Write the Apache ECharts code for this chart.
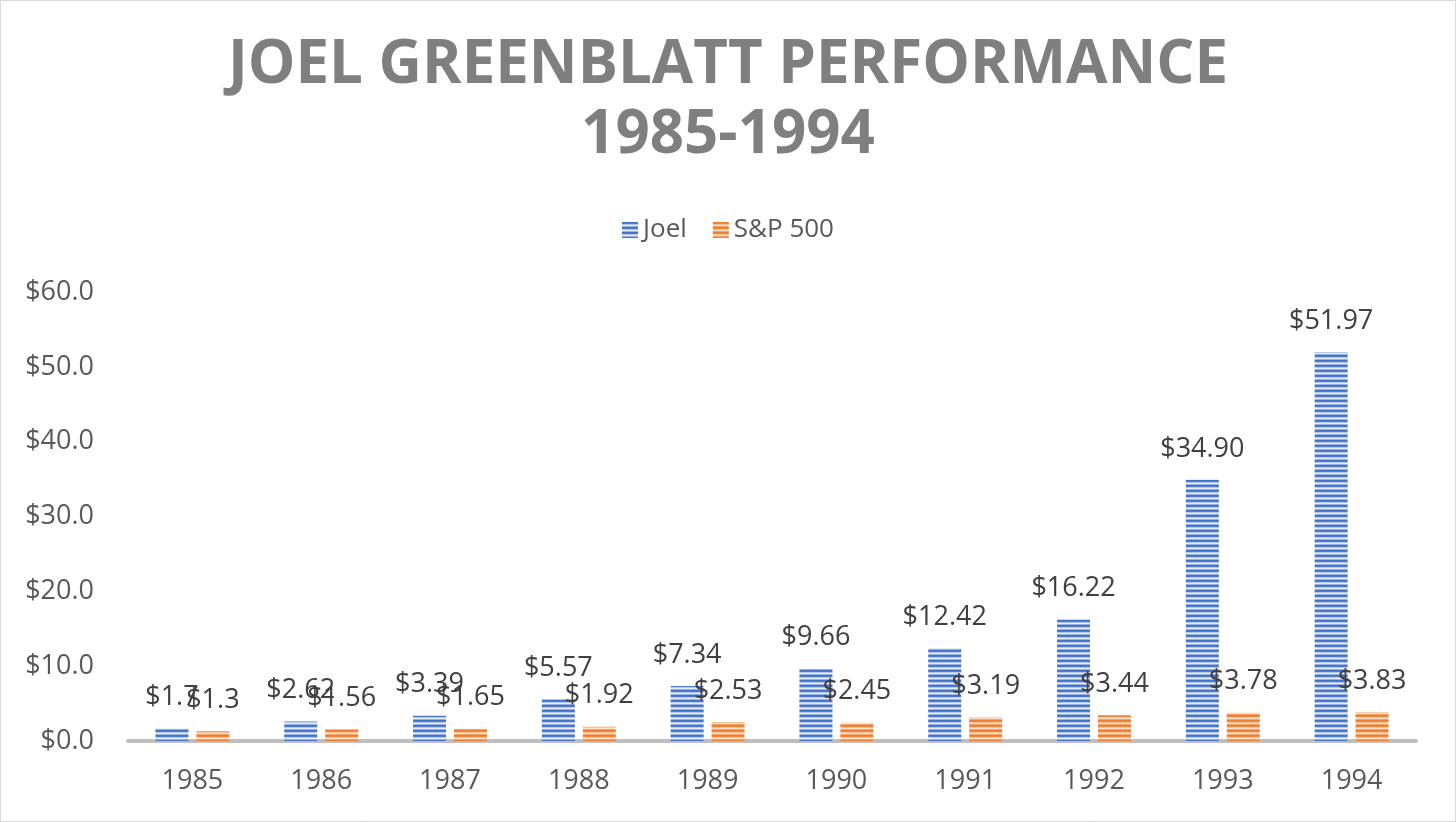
<!DOCTYPE html>
<html>
<head>
<meta charset="utf-8">
<title>Joel Greenblatt Performance 1985-1994</title>
<script src="https://cdn.jsdelivr.net/npm/echarts@6/dist/echarts.min.js"></script>
<style>
  html, body { margin: 0; padding: 0; background: #fff; }
  #main { width: 1456px; height: 822px; }
</style>
</head>
<body>
<div id="main"></div>
<script>
// chart data
const years = ['1985', '1986', '1987', '1988', '1989', '1990', '1991', '1992', '1993', '1994']
const joel = [1.7, 2.62, 3.39, 5.57, 7.34, 9.66, 12.42, 16.22, 34.90, 51.97]
const sp500 = [1.3, 1.56, 1.65, 1.92, 2.53, 2.45, 3.19, 3.44, 3.78, 3.83]
const joelLabels = ['$1.7', '$2.62', '$3.39', '$5.57', '$7.34', '$9.66', '$12.42', '$16.22', '$34.90', '$51.97']
const spLabels = ['$1.3', '$1.56', '$1.65', '$1.92', '$2.53', '$2.45', '$3.19', '$3.44', '$3.78', '$3.83']

// horizontal striped fill like the excel pattern
function stripes (rows) {
  const c = document.createElement('canvas')
  c.width = 4
  c.height = rows.length
  const ctx = c.getContext('2d')
  rows.forEach((col, i) => {
    ctx.fillStyle = col
    ctx.fillRect(0, i, 4, 1)
  })
  return { image: c, repeat: 'repeat' }
}
const bluePattern = stripes(['#4472c4', '#4f7bcb', '#b3c6ec', '#e6edf9', '#9ab2e3'])
const orangePattern = stripes(['#ed7d31', '#ef873f', '#f7c29c', '#fbe1cd', '#f3a468'])

const font = '"Open Sans", sans-serif'

const chart = echarts.init(document.getElementById('main'))
chart.setOption({
  backgroundColor: '#fff',
  animation: false,
  title: {
    text: 'JOEL GREENBLATT PERFORMANCE\n1985-1994',
    left: 'center',
    top: 31,
    padding: 0,
    textStyle: {
      fontFamily: font,
      fontSize: 60,
      fontWeight: 'bold',
      lineHeight: 70,
      color: '#7f7f7f'
    }
  },
  legend: {
    top: 210,
    left: 'center',
    itemWidth: 16,
    itemHeight: 16,
    itemGap: 26,
    icon: 'rect',
    textStyle: { fontFamily: font, fontSize: 26, color: '#595959', lineHeight: 30 },
    data: ['Joel', 'S&P 500']
  },
  graphic: [{
    type: 'rect',
    shape: { x: 0.5, y: 0.5, width: 1455, height: 821 },
    style: { fill: 'none', stroke: '#d9d9d9', lineWidth: 1 },
    silent: true
  }],
  grid: { left: 128, right: 40, top: 292, bottom: 81 },
  xAxis: {
    type: 'category',
    data: years,
    axisTick: { show: false },
    axisLine: { lineStyle: { color: '#bfbfbf', width: 4 } },
    axisLabel: { fontFamily: font, fontSize: 27, color: '#595959', margin: 27 }
  },
  yAxis: {
    type: 'value',
    min: 0,
    max: 60,
    interval: 10,
    splitLine: { show: false },
    axisLine: { show: false },
    axisTick: { show: false },
    axisLabel: {
      fontFamily: font, fontSize: 27, color: '#595959', margin: 34,
      formatter: v => '$' + v.toFixed(1)
    }
  },
  series: [
    {
      name: 'Joel',
      type: 'bar',
      data: joel,
      barWidth: 33,
      barGap: '24%',
      itemStyle: { color: bluePattern },
      label: {
        show: true, position: 'top', distance: 16,
        fontFamily: font, fontSize: 27, color: '#404040', lineHeight: 30,
        formatter: p => joelLabels[p.dataIndex]
      }
    },
    {
      name: 'S&P 500',
      type: 'bar',
      data: sp500,
      barWidth: 33,
      itemStyle: { color: orangePattern },
      label: {
        show: true, position: 'top', distance: 16,
        fontFamily: font, fontSize: 27, color: '#404040', lineHeight: 30,
        formatter: p => spLabels[p.dataIndex]
      }
    }
  ]
})
</script>
</body>
</html>
